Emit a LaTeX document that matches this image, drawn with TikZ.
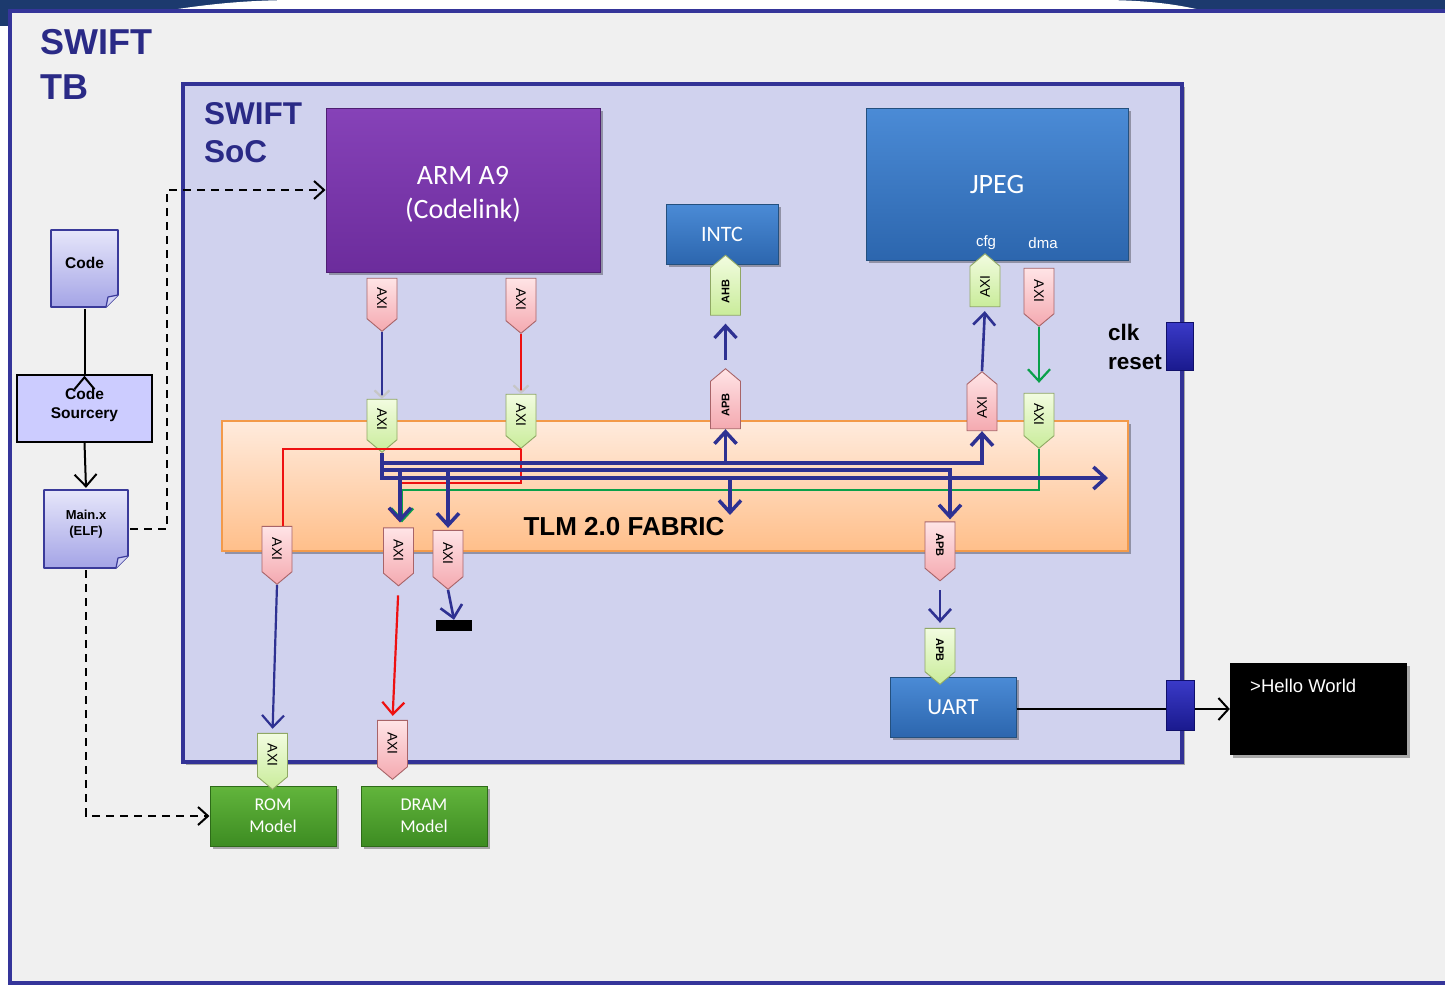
\documentclass[tikz,border=0pt]{standalone}
\usepackage{fontspec}
\setmainfont{Liberation Sans}
\newfontfamily\calfont{Carlito}
\usetikzlibrary{arrows.meta,shapes.symbols,shadows,calc}
\newcommand\fs[2]{\fontsize{#1}{#2}\selectfont}
\definecolor{topnavy}{HTML}{1C3A6E}
\definecolor{frameblue}{HTML}{35359A}
\definecolor{tbbg}{HTML}{F0F0F0}
\definecolor{socfill}{HTML}{D0D2EE}
\definecolor{socdraw}{HTML}{323296}
\definecolor{titlenavy}{HTML}{2A2A86}
\definecolor{armA}{HTML}{8642B8}
\definecolor{armB}{HTML}{6C2C9C}
\definecolor{armD}{HTML}{4E1F72}
\definecolor{blueA}{HTML}{4B8BD6}
\definecolor{blueB}{HTML}{2C66AE}
\definecolor{blueD}{HTML}{24507E}
\definecolor{fabA}{HTML}{FFEBDD}
\definecolor{fabB}{HTML}{FFBF8A}
\definecolor{fabD}{HTML}{F39A4A}
\definecolor{greenA}{HTML}{62B53C}
\definecolor{greenB}{HTML}{3D8C22}
\definecolor{greenD}{HTML}{2D6B18}
\definecolor{pinkA}{HTML}{FFE4E6}
\definecolor{pinkB}{HTML}{F4A9B0}
\definecolor{pinkD}{HTML}{A86468}
\definecolor{gpA}{HTML}{F2FCE0}
\definecolor{gpB}{HTML}{C9EC9A}
\definecolor{gpD}{HTML}{90A864}
\definecolor{busblue}{HTML}{2E3192}
\definecolor{redl}{HTML}{EE1111}
\definecolor{greenl}{HTML}{0AA04A}
\definecolor{docA}{HTML}{E6E6FA}
\definecolor{docB}{HTML}{A4A4E6}
\definecolor{docD}{HTML}{3A3A9A}
\definecolor{csfill}{HTML}{CCCCFF}
\definecolor{ioA}{HTML}{3A3AC8}
\definecolor{ioB}{HTML}{1A1A8E}
\definecolor{ioD}{HTML}{10106A}
\begin{document}
\begin{tikzpicture}[x=1pt,y=-1pt,
  bt/.tip={Straight Barb[length=12pt,width=22pt]},
  shad/.style={drop shadow={shadow xshift=2.5pt,shadow yshift=-2.5pt,opacity=0.3,fill=black}},
  port/.style={signal, signal to=east, signal pointer angle=100, minimum height=30pt,
    inner sep=0pt, line width=0.9pt, font=\fs{14}{14}},
  pdown/.style={port, rotate=-90},
  pup/.style={port, rotate=90},
  pinkp/.style={draw=pinkD, top color=pinkA, bottom color=pinkB},
  greenp/.style={draw=gpD, top color=gpA, bottom color=gpB},
  bluebox/.style={shad, draw=blueD, line width=1pt, top color=blueA, bottom color=blueB,
    text=white, font=\calfont, inner sep=0pt},
  modelbox/.style={shad, draw=greenD, line width=1pt, top color=greenA, bottom color=greenB,
    text=white, font=\calfont\fs{18}{22}, align=center, minimum width=126pt, minimum height=60pt},
  iobox/.style={draw=ioD, line width=0.8pt, top color=ioA, bottom color=ioB, inner sep=0pt},
  title/.style={text=titlenavy, align=left, inner sep=0pt, anchor=north west},
  bus/.style={line width=3.5pt, draw=busblue},
  redbus/.style={line width=2.8pt, draw=redl},
  greenbus/.style={line width=2.8pt, draw=greenl},
  dashln/.style={line width=2pt, dash pattern=on 8pt off 6pt},
  docn/.style={inner sep=0pt, font=\bfseries, align=center,
    path picture={
      \coordinate (dNW) at ([shift={(2pt,-2pt)}]path picture bounding box.north west);
      \coordinate (dNE) at ([shift={(-2pt,-2pt)}]path picture bounding box.north east);
      \coordinate (dSW) at ([shift={(2pt,2pt)}]path picture bounding box.south west);
      \coordinate (dSE1) at ([shift={(-2pt,14pt)}]path picture bounding box.south east);
      \coordinate (dSE2) at ([shift={(-14pt,2pt)}]path picture bounding box.south east);
      \coordinate (dF) at ([shift={(-12pt,12pt)}]path picture bounding box.south east);
      \shade[top color=docA, bottom color=docB] (dNW) -- (dNE) -- (dSE1) -- (dSE2) -- (dSW) -- cycle;
      \draw[docD, line width=1.6pt, line join=round] (dNW) -- (dNE) -- (dSE1) -- (dSE2) -- (dSW) -- cycle;
      \draw[docD, line width=1.2pt, fill=docA!70!docB, line join=round] (dSE2) -- (dF) -- (dSE1);
    }},
]
\useasboundingbox (0,0) rectangle (1445,985);
\clip (0,0) rectangle (1445,985);
\fill[white] (0,0) rectangle (1445,985);
\fill[topnavy] (0,0) rectangle (1445,11);
\fill[white] (165,11) .. controls (220,2) and (260,0) .. (300,0) -- (1100,0) .. controls (1150,0) and (1180,5) .. (1205,11) -- cycle;
\fill[topnavy] (0,11) rectangle (9,26);
\draw[line width=3.5pt, draw=frameblue, fill=tbbg] (10,11) rectangle (1475,983);

% titles
\node[title, font=\bfseries\fs{36}{45}] (tbtitle) at (40,29) {SWIFT\\TB};

% SoC
\node[shad, draw=socdraw, line width=4pt, fill=socfill, minimum width=999pt, minimum height=678pt] (soc) at (682.5,423) {};
\node[title, font=\bfseries\fs{31.5}{38}] (soctitle) at (204,102) {SWIFT\\SoC};

% fabric
\node[shad, draw=fabD, line width=1.5pt, top color=fabA, bottom color=fabB, minimum width=906pt, minimum height=130pt] (fabric) at (675,486) {};
\node[font=\bfseries\fs{26}{26}, inner sep=0pt] (fablabel) at (624,527) {TLM 2.0 FABRIC};

% blocks
\node[shad, draw=armD, line width=1pt, top color=armA, bottom color=armB, minimum width=274pt, minimum height=164pt] (arm) at (463,190) {};
\node[text=white, font=\calfont\fs{28}{34}, align=center, inner sep=0pt] (armlabel) at (463,194) {ARM A9\\(Codelink)};
\node[bluebox, font=\calfont\fs{22}{22}, minimum width=112pt, minimum height=60pt] (intc) at (722,234) {INTC};
\node[bluebox, minimum width=262pt, minimum height=152pt] (jpeg) at (997,184) {};
\node[text=white, font=\calfont\fs{28}{28}, inner sep=0pt] (jpeglabel) at (997,185) {JPEG};
\node[text=white, font=\fs{15}{15}, inner sep=0pt] (cfglabel) at (986,243) {cfg};
\node[text=white, font=\fs{15}{15}, inner sep=0pt] (dmalabel) at (1043,243) {dma};
\node[bluebox, font=\calfont\fs{23}{23}, minimum width=126pt, minimum height=60pt] (uart) at (953,707) {UART};
\node[modelbox] (rom) at (273,816) {ROM\\Model};
\node[modelbox] (dram) at (424,816) {DRAM\\Model};
\node[shad, fill=black, minimum width=177pt, minimum height=92pt] (hello) at (1318.5,709) {};
\node[anchor=west, text=white, font=\fs{18.5}{20}, inner sep=0pt] (hellotxt) at (1250,686) {>Hello World};
\node[fill=black, minimum width=36pt, minimum height=11pt, inner sep=0pt] (bar) at (454,625.5) {};

% clk / reset
\node[iobox, minimum width=27pt, minimum height=48pt] (clkio) at (1179.5,346) {};
\node[anchor=east, align=left, font=\bfseries\fs{22.5}{29}, inner sep=0pt] (clklabel) at (1162,347) {clk\\reset};

% ports
\node[pdown, pinkp, minimum width=53pt] (p1) at (382,298.5) {AXI};
\node[pdown, pinkp, minimum width=55pt] (p2) at (521,299.5) {AXI};
\node[pdown, greenp, minimum width=53pt] (g1) at (382,419.5) {AXI};
\node[pdown, greenp, minimum width=54pt] (g2) at (521,415) {AXI};
\node[pup, greenp, minimum width=60pt, font=\bfseries\fs{11}{11}] (ahb) at (725.5,291.5) {AHB};
\node[pup, pinkp, minimum width=60pt, font=\bfseries\fs{11}{11}] (apb1) at (725.5,405) {APB};
\node[pup, greenp, minimum width=53pt] (cfg) at (985,286.5) {AXI};
\node[pdown, pinkp, minimum width=58pt] (dma) at (1039,291) {AXI};
\node[pup, pinkp, minimum width=59pt] (jaxi) at (982,407.5) {AXI};
\node[pdown, greenp, minimum width=55pt] (jaxi2) at (1039,414.5) {AXI};
\node[pdown, pinkp, minimum width=58pt] (f1) at (277,549) {AXI};
\node[pdown, pinkp, minimum width=58pt] (f2) at (398.5,550.5) {AXI};
\node[pdown, pinkp, minimum width=59pt] (f3) at (448,553.5) {AXI};
\node[pdown, pinkp, minimum width=59pt, font=\bfseries\fs{11}{11}] (apb2) at (940,545) {APB};
\node[pdown, greenp, minimum width=56pt, font=\bfseries\fs{11}{11}] (apb3) at (940,650) {APB};
\node[pdown, greenp, minimum width=56pt] (romaxi) at (272.5,755) {AXI};
\node[pdown, pinkp, minimum width=59pt] (dramaxi) at (392.5,743.5) {AXI};

% helper coordinates
\coordinate (busend) at (1108,478);
\coordinate (intcdn) at (730,515);
\coordinate (apb2in) at ([xshift=10pt]apb2.west);
\coordinate (f2in) at ([xshift=1.5pt]f2.west);
\coordinate (f2ing) at ([xshift=3.5pt]f2.west);
\coordinate (f1in) at ([xshift=6pt]f1.west);

% port to port
\draw[line width=2.2pt, busblue, -{Straight Barb[length=7pt,width=15pt,color=gray!45]}] (p1.east) -- (g1.west);
\draw[line width=2.2pt, redl, -{Straight Barb[length=7pt,width=15pt,color=gray!45]}] (p2.east) -- (g2.west);
\draw[line width=3.2pt, busblue, -{bt}, shorten <=8pt, shorten >=8pt] (apb1.east) -- (ahb.west);
\draw[line width=2.6pt, busblue, -{bt}, shorten >=4pt] (jaxi.east) -- (cfg.west);
\draw[line width=2.2pt, greenl, -{bt}, shorten >=10pt] (dma.east) -- (jaxi2.west);
\draw[line width=2.6pt, busblue, -{bt}, shorten <=9pt, shorten >=5pt] (apb2.east) -- (apb3.west);
\draw[line width=2.2pt, busblue, -{bt}, shorten >=4pt] (f1.east) -- (romaxi.west);
\draw[line width=2.2pt, redl, -{bt}, shorten <=9pt, shorten >=4pt] (f2.east) -- (dramaxi.west);
\draw[line width=2.6pt, busblue, -{bt}] (f3.east) -- (bar.north);

% fabric routing
\draw[redbus] (f1in) |- (g2.east |- 0,449) -- (g2.east);
\draw[redbus, -{bt}, shorten >=5pt] (g2.east) |- (f2in |- 0,483) -- (f2in);
\draw[greenbus, -{bt}, shorten >=5pt] (jaxi2.east) |- (f2ing |- 0,490) -- (f2ing);
\draw[bus, -{bt}] (g1.east) |- (busend);
\draw[bus, -{bt}, shorten >=2pt] (g1.east) |- (apb2in |- 0,470) -- (apb2in);
\draw[bus, -{bt}] (g1.east) |- (jaxi.west |- 0,463) -- (jaxi.west);
\draw[bus, -{bt}] (apb1.west |- 0,463) -- (apb1.west);
\draw[bus, -{bt}] (intcdn |- 0,478) -- (intcdn);
\draw[bus, -{bt}, shorten >=2pt] (f3.west |- 0,472) -- (f3.west);
\draw[bus, -{bt}, shorten >=5pt] (f2in |- 0,470) -- (f2in);

% UART to console
\draw[line width=2pt, -{Straight Barb[length=10pt,width=22pt]}] (uart.east |- hello.west) -- (hello.west);
\node[iobox, minimum width=28pt, minimum height=50pt] (uartio) at (1180,705) {};

% left tool flow
\node[docn, font=\bfseries\fs{15.5}{19}, minimum width=71pt, minimum height=81pt, text depth=12pt] (code) at (84.5,268.5) {Code};
\node[draw=black, line width=1.5pt, fill=csfill, minimum width=135pt, minimum height=67pt,
  align=center, font=\bfseries\fs{15.5}{19}, inner sep=0pt] (cs) at (84.5,408.5) {};
\node[font=\bfseries\fs{15.5}{19}, align=center, inner sep=0pt] (cslabel) at (84.5,405) {Code\\Sourcery};
\node[docn, minimum width=88pt, minimum height=82pt] (mainx) at (86,529) {};
\node[font=\bfseries\fs{13}{16}, align=center, inner sep=0pt] (mainxlabel) at (86,524) {Main.x\\(ELF)};
\draw[line width=2pt] (code.south) -- (cs.north);
\draw[line width=2pt, line join=miter] ([shift={(-10pt,-15pt)}]cs.north) -- ([yshift=-3pt]cs.north) -- ([shift={(10pt,-15pt)}]cs.north);
\draw[line width=2pt, -{Straight Barb[length=12pt,width=22pt]}] (cs.south) -- (mainx.north);
\draw[dashln, -{Straight Barb[length=10pt,width=18pt]}] (mainx.east) -- ++(37,0) |- (arm.west);
\draw[dashln, -{Straight Barb[length=10pt,width=18pt]}] (mainx.south) |- (rom.west);
\end{tikzpicture}
\end{document}
